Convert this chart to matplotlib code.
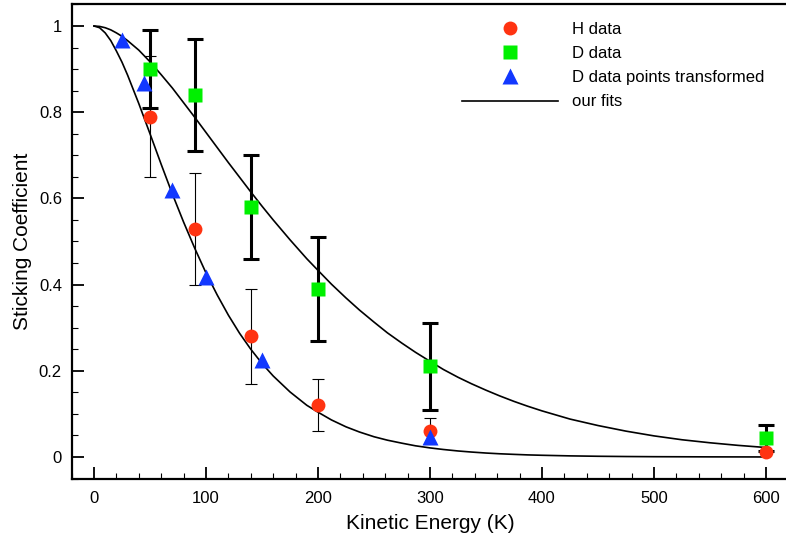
import matplotlib
matplotlib.use("Agg")
import matplotlib.pyplot as plt
from matplotlib.lines import Line2D
from matplotlib.ticker import MultipleLocator

plt.rcParams['font.family'] = ['Liberation Sans', 'DejaVu Sans']

# ---- data ----
h_energy = [50, 90, 140, 200, 300, 600]
h_stick = [0.79, 0.53, 0.28, 0.12, 0.06, 0.012]
h_err = [0.14, 0.13, 0.11, 0.06, 0.03, 0.005]

d_energy = [50, 90, 140, 200, 300, 600]
d_stick = [0.90, 0.84, 0.58, 0.39, 0.21, 0.044]
d_err = [0.09, 0.13, 0.12, 0.12, 0.10, 0.03]

t_energy = [25, 45, 70, 100, 150, 300]
t_stick = [0.967, 0.867, 0.62, 0.418, 0.225, 0.046]

fit_energy = [0, 5, 10, 15, 20, 25, 30, 40, 50, 60, 70, 80, 90, 100, 110, 120,
              130, 140, 150, 160, 175, 190, 200, 212, 225, 237, 250, 262, 275,
              287, 300, 312, 325, 337, 350, 362, 375, 387, 400, 425, 450, 475,
              500, 525, 550, 575, 600]
fit_h = [1.0, 0.996, 0.984, 0.966, 0.942, 0.916, 0.886, 0.820, 0.750, 0.679,
         0.610, 0.545, 0.484, 0.427, 0.376, 0.329, 0.287, 0.250, 0.217, 0.188,
         0.151, 0.120, 0.104, 0.086, 0.070, 0.058, 0.047, 0.039, 0.032,
         0.026, 0.0211, 0.0174, 0.0140, 0.0115, 0.0092, 0.0075, 0.0061, 0.0049,
         0.0040, 0.0026, 0.0017, 0.0011, 0.0007, 0.0005, 0.0003, 0.0002, 0.0001]
fit_d = [1.0, 0.999, 0.996, 0.991, 0.984, 0.976, 0.966, 0.944, 0.917, 0.887,
         0.856, 0.822, 0.788, 0.753, 0.718, 0.683, 0.649, 0.615, 0.582, 0.550,
         0.504, 0.460, 0.433, 0.401, 0.369, 0.341, 0.313, 0.288, 0.264,
         0.243, 0.222, 0.203, 0.185, 0.170, 0.155, 0.142, 0.129, 0.118,
         0.107, 0.088, 0.073, 0.060, 0.049, 0.040, 0.033, 0.027, 0.022]

x_ticks = [0, 100, 200, 300, 400, 500, 600]
y_ticks = [0, 0.2, 0.4, 0.6, 0.8, 1]
y_tick_labels = ['0', '0.2', '0.4', '0.6', '0.8', '1']

red = '#FF3311'
green = '#00F000'
blue = '#1238FF'

fig = plt.figure(figsize=(7.86, 5.4), dpi=100)
ax = fig.add_axes([71.6 / 786, 1 - 478.55 / 540, 716.8 / 786, 474.1 / 540])

ax.plot(fit_energy, fit_d, color='black', lw=1.2, zorder=2)
ax.plot(fit_energy, fit_h, color='black', lw=1.2, zorder=2)

ax.errorbar(h_energy, h_stick, yerr=h_err, fmt='none', ecolor='black',
            elinewidth=0.8, capsize=4, capthick=0.8, zorder=3)
ax.errorbar(d_energy, d_stick, yerr=d_err, fmt='none', ecolor='black',
            elinewidth=2.2, capsize=5.5, capthick=2.2, zorder=3)

ax.plot(h_energy, h_stick, 'o', color=red, ms=10, mec='none', zorder=4, clip_on=False)
ax.plot(d_energy, d_stick, 's', color=green, ms=9.5, mec='none', zorder=4, clip_on=False)
ax.plot(t_energy, t_stick, '^', color=blue, ms=11, mec='none', zorder=5, clip_on=False)

ax.set_xlim(-20, 620)
ax.set_ylim(-0.05, 1.05)
ax.set_xticks(x_ticks)
ax.set_yticks(y_ticks)
ax.set_yticklabels(y_tick_labels)
ax.xaxis.set_minor_locator(MultipleLocator(20))
ax.yaxis.set_minor_locator(MultipleLocator(0.05))
ax.tick_params(which='major', direction='in', length=8.6, width=1.3,
               labelsize=12, pad=9, colors='black')
ax.tick_params(which='minor', direction='in', length=4.3, width=0.8)
ax.tick_params(axis='y', which='major', pad=7)

for side in ['left', 'bottom', 'top']:
    ax.spines[side].set_linewidth(1.6)
ax.spines['right'].set_visible(False)

ax.set_xlabel('Kinetic Energy (K)', fontsize=15, labelpad=6)
ax.set_ylabel('Sticking Coefficient', fontsize=15, labelpad=5)

handles = [
    Line2D([], [], ls='none', marker='o', color=red, ms=10, mec='none'),
    Line2D([], [], ls='none', marker='s', color=green, ms=9.5, mec='none'),
    Line2D([], [], ls='none', marker='^', color=blue, ms=11, mec='none'),
    Line2D([], [], color='black', lw=1.2),
]
labels = ['H data', 'D data', 'D data points transformed', 'our fits']
ax.legend(handles, labels, loc='upper left', frameon=False, fontsize=12,
          bbox_to_anchor=(462 / 786, 1 - 22 / 540), bbox_transform=fig.transFigure,
          borderpad=0, borderaxespad=0, handlelength=5.76, handletextpad=0.84,
          labelspacing=0.55, numpoints=1)

fig.savefig('out.png', dpi=100)
